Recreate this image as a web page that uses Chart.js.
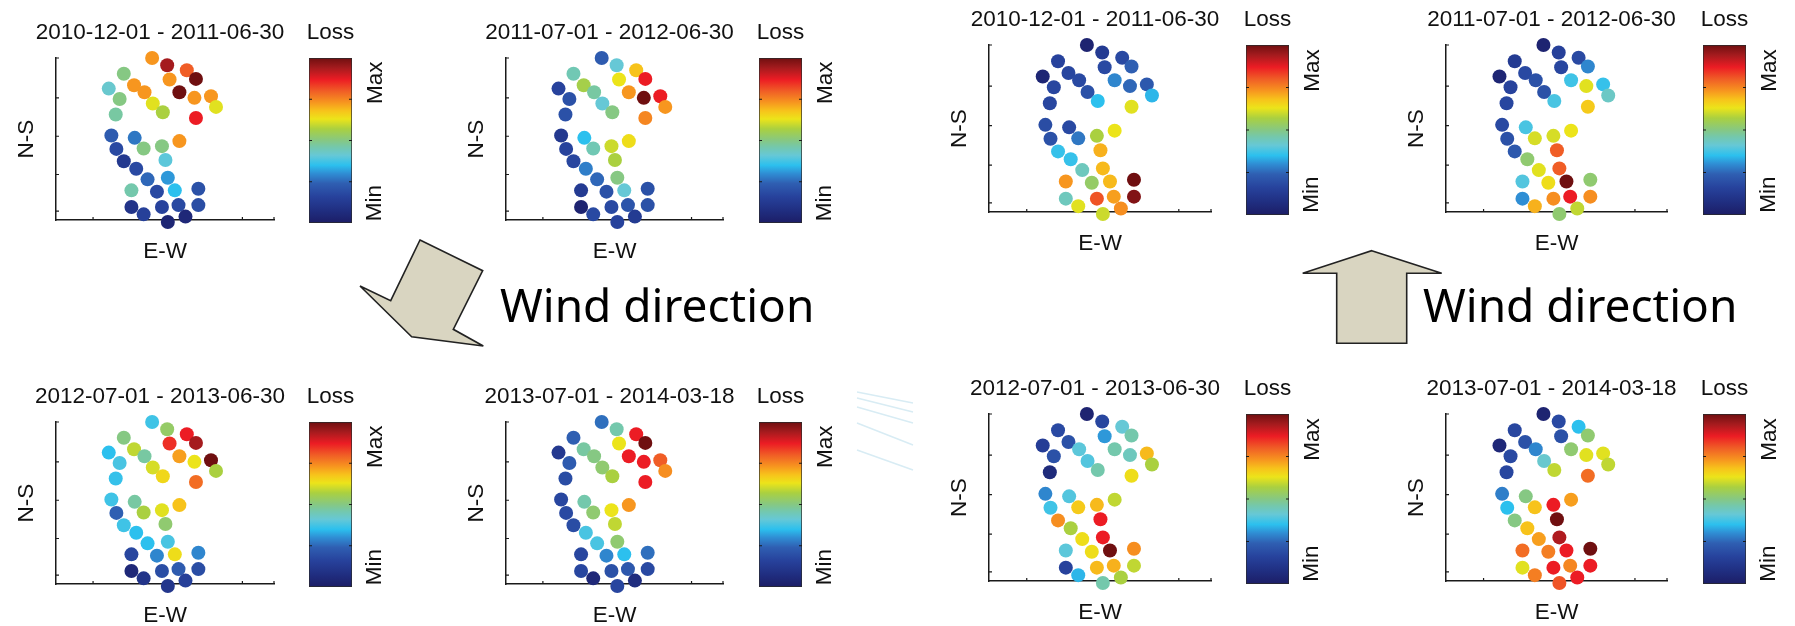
<!DOCTYPE html>
<html>
<head>
<meta charset="utf-8">
<script src="https://cdn.jsdelivr.net/npm/chart.js@4.4.1/dist/chart.umd.min.js"></script>
<style>
body { margin: 0; background: #fff; width: 1795px; height: 626px; overflow: hidden; position: relative; }
canvas { position: absolute; }
#overlay { position: absolute; left: 0; top: 0; }
</style>
</head>
<body>
<svg id="overlay" width="1795" height="626"></svg>
<script>
// station positions, E-W / N-S in plot units (0-100)
const stationX = [44.1,51.0,60.0,64.2,31.1,52.1,35.8,24.2,40.6,56.6,63.5,71.1,29.2,44.4,73.4,49.0,27.4,64.2,25.4,36.1,
                  56.6,27.7,40.2,48.6,31.1,50.2,36.8,42.0,51.3,34.6,46.3,54.5,65.3,34.6,40.2,48.6,56.2,65.3,51.3,59.4];
const stationY = [100,95.5,92.4,87.1,90.3,86.7,83.2,81.1,78.9,78.9,75.4,76.4,74.7,71.9,69.8,66.5,65.1,63.0,52.2,50.7,
                  48.7,43.9,44.1,45.6,36.3,37.0,31.6,25.1,26.1,18.3,17.5,18.3,19.3,8.0,3.5,8.0,9.2,9.2,-1.2,2.1];

const periods = ['2010-12-01 - 2011-06-30', '2011-07-01 - 2012-06-30',
                 '2012-07-01 - 2013-06-30', '2013-07-01 - 2014-03-18'];

// relative loss per station (0 = Min, 1 = Max), left group
const lossL1 = [0.73,0.94,0.80,1.00,0.50,0.73,0.73,0.42,0.73,1.00,0.73,0.73,0.50,0.62,0.62,0.57,0.47,0.87,0.23,0.27,
                0.73,0.18,0.50,0.50,0.12,0.40,0.18,0.25,0.31,0.46,0.18,0.35,0.20,0.10,0.15,0.16,0.18,0.19,0.04,0.05];
const lossL2 = [0.23,0.41,0.68,0.87,0.45,0.63,0.56,0.16,0.47,0.73,1.00,0.87,0.20,0.41,0.73,0.50,0.20,0.75,0.12,0.35,
                0.64,0.16,0.45,0.60,0.17,0.57,0.28,0.25,0.50,0.13,0.20,0.41,0.20,0.03,0.18,0.18,0.21,0.20,0.16,0.13];
const lossL3 = [0.37,0.53,0.87,0.94,0.50,0.85,0.59,0.35,0.47,0.72,0.63,1.00,0.38,0.61,0.57,0.65,0.36,0.78,0.37,0.47,
                0.68,0.24,0.57,0.62,0.37,0.52,0.35,0.35,0.38,0.17,0.29,0.64,0.29,0.05,0.10,0.19,0.23,0.19,0.11,0.15];
const lossL4 = [0.26,0.46,0.87,1.00,0.24,0.63,0.47,0.12,0.50,0.87,0.87,0.80,0.23,0.52,0.74,0.57,0.19,0.87,0.17,0.46,
                0.73,0.18,0.52,0.63,0.19,0.59,0.38,0.38,0.52,0.17,0.29,0.35,0.26,0.17,0.05,0.20,0.22,0.18,0.17,0.07];
// right group
const lossR1 = [0.03,0.13,0.18,0.24,0.16,0.18,0.17,0.04,0.18,0.29,0.25,0.22,0.17,0.20,0.34,0.35,0.17,0.62,0.19,0.18,
                0.63,0.20,0.27,0.57,0.36,0.70,0.36,0.44,0.69,0.73,0.53,0.69,1.00,0.44,0.62,0.81,0.72,0.98,0.60,0.74];
const lossR2 = [0.03,0.15,0.18,0.29,0.13,0.17,0.18,0.04,0.20,0.37,0.62,0.36,0.16,0.20,0.43,0.38,0.17,0.67,0.18,0.38,
                0.63,0.20,0.61,0.61,0.22,0.80,0.52,0.62,0.80,0.39,0.64,1.00,0.52,0.30,0.70,0.74,0.87,0.74,0.52,0.59];
const lossR3 = [0.03,0.17,0.41,0.46,0.18,0.31,0.20,0.14,0.40,0.46,0.44,0.69,0.20,0.39,0.57,0.46,0.06,0.64,0.29,0.39,
                0.59,0.37,0.67,0.69,0.74,0.87,0.57,0.64,0.87,0.40,0.64,1.00,0.74,0.16,0.34,0.69,0.70,0.59,0.46,0.57];
const lossR4 = [0.03,0.18,0.35,0.52,0.17,0.20,0.20,0.05,0.29,0.52,0.62,0.62,0.18,0.42,0.59,0.59,0.17,0.78,0.28,0.50,
                0.72,0.35,0.68,0.87,0.50,1.00,0.68,0.72,0.93,0.78,0.76,0.87,1.00,0.62,0.76,0.87,0.75,0.87,0.81,0.87];

const xTickVals = [17, 85.5, 100];
const yTickVals = [5.5, 28.1, 51.7, 75.4, 100];
const cbTickVals = [0.25, 0.5, 0.75];

const cmap = [[0,'#1c1d66'],[0.08,'#202f82'],[0.16,'#27429c'],[0.24,'#2f5fb2'],[0.30,'#2f8ed4'],[0.35,'#2cc0ee'],
  [0.41,'#66c8d6'],[0.46,'#74c8ac'],[0.50,'#86c883'],[0.57,'#aad040'],[0.63,'#ece41a'],[0.68,'#f7c31b'],
  [0.73,'#f7961f'],[0.80,'#f05d26'],[0.87,'#ec1c24'],[0.94,'#a51b1e'],[1,'#6f0f10']];

const panels = [
  {x: 56,   y: 58,  w: 218, h: 162, cb: 253, period: 0, loss: lossL1},
  {x: 506,  y: 58,  w: 217, h: 162, cb: 253, period: 1, loss: lossL2},
  {x: 56,   y: 422, w: 218, h: 162, cb: 253, period: 2, loss: lossL3},
  {x: 506,  y: 422, w: 217, h: 162, cb: 253, period: 3, loss: lossL4},
  {x: 989,  y: 45,  w: 222, h: 167, cb: 257, period: 0, loss: lossR1},
  {x: 1446, y: 45,  w: 221, h: 167, cb: 257, period: 1, loss: lossR2},
  {x: 989,  y: 414, w: 222, h: 167, cb: 257, period: 2, loss: lossR3},
  {x: 1446, y: 414, w: 221, h: 167, cb: 257, period: 3, loss: lossR4}
];

function hexRgb(c) { return [1, 3, 5].map(i => parseInt(c.substr(i, 2), 16)); }
function lossColor(v) {
  for (let i = 1; i < cmap.length; i++) {
    if (v <= cmap[i][0]) {
      const a = cmap[i - 1], b = cmap[i];
      const t = (v - a[0]) / (b[0] - a[0]);
      const A = hexRgb(a[1]), B = hexRgb(b[1]);
      return 'rgb(' + A.map((c, k) => Math.round(c + (B[k] - c) * t)).join(',') + ')';
    }
  }
  return cmap[cmap.length - 1][1];
}

// small inward ticks, matlab style
const inTicks = {
  id: 'inTicks',
  afterDraw(chart, args, o) {
    const ctx = chart.ctx, a = chart.chartArea, s = chart.scales;
    ctx.save();
    ctx.strokeStyle = '#1a1a1a';
    ctx.lineWidth = 1.2;
    ctx.beginPath();
    (o.x || []).forEach(v => {
      const px = s.x.getPixelForValue(v);
      ctx.moveTo(px, a.bottom); ctx.lineTo(px, a.bottom - 3);
    });
    (o.y || []).forEach(v => {
      const py = s.y.getPixelForValue(v);
      ctx.moveTo(a.left, py); ctx.lineTo(a.left + 3, py);
      if (o.both) { ctx.moveTo(a.right, py); ctx.lineTo(a.right - 3, py); }
    });
    ctx.stroke();
    ctx.restore();
  }
};

function gradFill(c) {
  const area = c.chart.chartArea;
  if (!area) return '#2f8ed4';
  const g = c.chart.ctx.createLinearGradient(0, area.bottom, 0, area.top);
  cmap.forEach(s => g.addColorStop(s[0], s[1]));
  return g;
}

function addCanvas(left, top, w, h) {
  const cv = document.createElement('canvas');
  cv.width = w; cv.height = h;
  cv.style.left = left + 'px';
  cv.style.top = top + 'px';
  document.body.insertBefore(cv, document.getElementById('overlay'));
  return cv;
}

const PAD = 12;
const axisStyle = {ticks: {display: false}, grid: {display: false, drawTicks: false}, border: {color: '#1a1a1a', width: 1.5}};

panels.forEach(p => {
  const cv = addCanvas(p.x - PAD, p.y - PAD, p.w + 2 * PAD, p.h + 2 * PAD);
  new Chart(cv, {
    type: 'scatter',
    data: {
      datasets: [{
        data: stationX.map((x, i) => ({x: x, y: stationY[i]})),
        backgroundColor: p.loss.map(lossColor),
        pointRadius: 7,
        borderWidth: 0,
        clip: false
      }]
    },
    options: {
      responsive: false,
      animation: false,
      events: [],
      layout: {padding: PAD},
      plugins: {
        legend: {display: false},
        tooltip: {enabled: false},
        inTicks: {x: xTickVals, y: yTickVals}
      },
      scales: {
        x: Object.assign({type: 'linear', min: 0, max: 100}, axisStyle),
        y: Object.assign({type: 'linear', min: 0, max: 100}, axisStyle)
      }
    },
    plugins: [inTicks]
  });

  // colour bar
  const cbx = p.x + p.cb, cbw = 43, cbh = p.h + 3;
  const cb = addCanvas(cbx - 1, p.y - 1, cbw + 2, cbh + 2);
  new Chart(cb, {
    type: 'bar',
    data: {
      labels: ['Loss'],
      datasets: [{
        data: [1],
        backgroundColor: gradFill,
        borderColor: '#2a2a2a',
        borderWidth: 1,
        borderSkipped: false,
        barPercentage: 1,
        categoryPercentage: 1
      }]
    },
    options: {
      responsive: false,
      animation: false,
      events: [],
      layout: {padding: 1},
      plugins: {
        legend: {display: false},
        tooltip: {enabled: false},
        inTicks: {y: cbTickVals, both: true}
      },
      scales: {
        x: {display: false},
        y: {display: false, min: 0, max: 1}
      }
    },
    plugins: [inTicks]
  });
  p.cbx = cbx; p.cbw = cbw; p.cbh = cbh;
});

// labels and arrows
const svg = document.getElementById('overlay');
const NS = 'http://www.w3.org/2000/svg';
function el(tag, attrs, text) {
  const e = document.createElementNS(NS, tag);
  for (const k in attrs) e.setAttribute(k, attrs[k]);
  if (text) e.textContent = text;
  svg.appendChild(e);
  return e;
}
const lab = {'font-family': 'Liberation Sans, Arial, sans-serif', 'font-size': 22.5, fill: '#111',
             'text-anchor': 'middle', 'dominant-baseline': 'central'};

panels.forEach(p => {
  const ty = p.y - 26.5;
  el('text', Object.assign({x: p.x + p.w / 2 - 5, y: ty}, lab), periods[p.period]);
  el('text', Object.assign({x: p.cbx + p.cbw / 2, y: ty}, lab), 'Loss');
  el('text', Object.assign({x: p.x + p.w / 2, y: p.y + p.h + 30}, lab), 'E-W');
  const nx = p.x - 31, ny = p.y + p.h / 2;
  el('text', Object.assign({x: nx, y: ny, transform: 'rotate(-90 ' + nx + ' ' + ny + ')'}, lab), 'N-S');
  const mx = p.cbx + p.cbw + 22;
  const maxY = p.y + 0.15 * p.cbh, minY = p.y + 0.88 * p.cbh;
  el('text', Object.assign({x: mx, y: maxY, transform: 'rotate(-90 ' + mx + ' ' + maxY + ')'}, lab), 'Max');
  el('text', Object.assign({x: mx, y: minY, transform: 'rotate(-90 ' + mx + ' ' + minY + ')'}, lab), 'Min');
});

const arrowStyle = {fill: '#d9d5c1', stroke: '#222', 'stroke-width': 1.6, 'stroke-linejoin': 'miter'};
el('polygon', Object.assign({points: '420,240 482.7,270.7 453.3,329.3 483.3,346 411.7,336.7 360,286 390.7,300.7'}, arrowStyle));
el('polygon', Object.assign({points: '1371.7,250.7 1441.7,273.3 1406.7,273.3 1406.7,343.3 1336.7,343.3 1336.7,273.3 1302.7,273.3'}, arrowStyle));
const windStyle = {'font-family': 'Noto Sans, sans-serif', 'font-size': 46, fill: '#000'};
el('text', Object.assign({x: 500, y: 321.7}, windStyle), 'Wind direction');
el('text', Object.assign({x: 1423, y: 321.7}, windStyle), 'Wind direction');

// faint streaks between the groups
[[392, 403], [398, 412], [407, 423], [423, 445], [450, 470]].forEach(s => {
  el('line', {x1: 857, y1: s[0], x2: 913, y2: s[1], stroke: '#d8ecf4', 'stroke-width': 1.5});
});
</script>
</body>
</html>
